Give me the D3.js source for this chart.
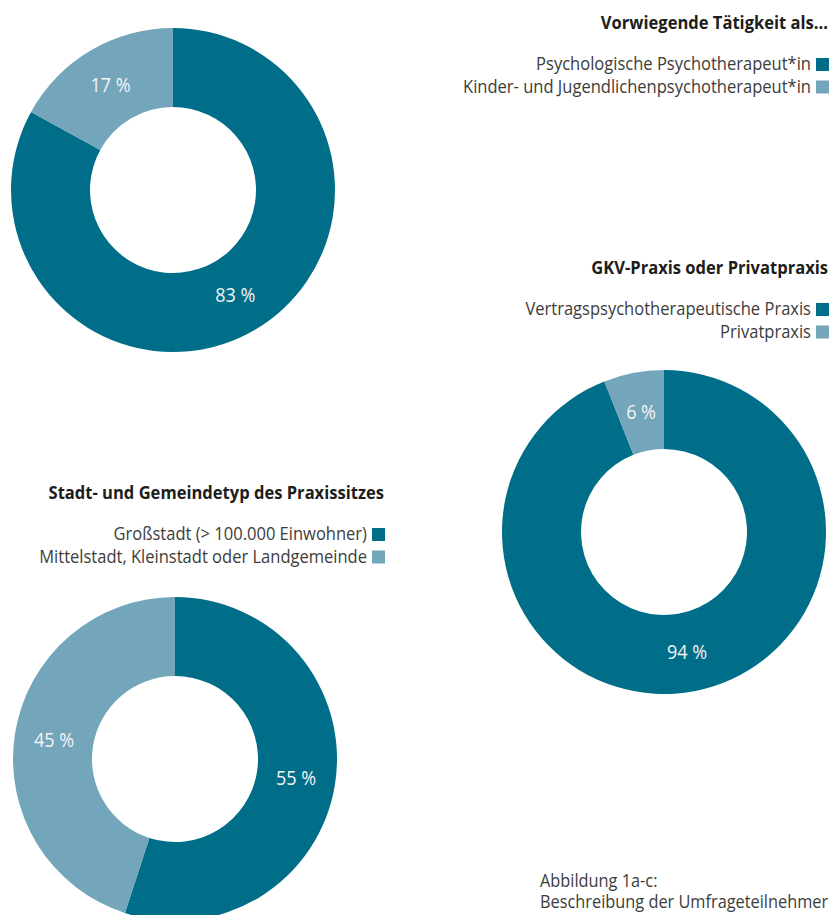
<!DOCTYPE html>
<html>
<head>
<meta charset="utf-8">
<script src="https://cdn.jsdelivr.net/npm/d3@7"></script>
<style>
  body { margin: 0; background: #fff; }
  svg { display: block; }
  .title { font-family: 'Open Sans', sans-serif; font-weight: 700; font-size: 18px; fill: #1d1d1b; }
  .legend-text, .caption { font-family: 'Open Sans', sans-serif; font-weight: 400; font-size: 19px; fill: #3c3c3b; }
  .slice-label { font-family: 'Open Sans', sans-serif; font-size: 20px; fill: #f4f4f4; }
</style>
</head>
<body>
<div id="chart"></div>
<script>
const colors = ['#006e89', '#74a6bb'];

const titles = [
  'Vorwiegende Tätigkeit als...',
  'GKV-Praxis oder Privatpraxis',
  'Stadt- und Gemeindetyp des Praxissitzes'
];

const taetigkeitLabels = ['Psychologische Psychotherapeut*in', 'Kinder- und Jugendlichenpsychotherapeut*in'];
const taetigkeitValues = [83, 17];

const praxisLabels = ['Vertragspsychotherapeutische Praxis', 'Privatpraxis'];
const praxisValues = [94, 6];

const ortLabels = ['Großstadt (> 100.000 Einwohner)', 'Mittelstadt, Kleinstadt oder Landgemeinde'];
const ortValues = [55, 45];

const captionLines = ['Abbildung 1a-c:', 'Beschreibung der Umfrageteilnehmer'];

const widthSvg = 840;
const heightSvg = 915;
const outerR = 162;
const innerR = 83;
// horizontal squeeze to mimic the condensed face of the original
const squeeze = { title: 0.92, legend: 0.87, label: 0.9, caption: 0.86 };

// layout for the three panels
const panels = [
  { title: titles[0], labels: taetigkeitLabels, values: taetigkeitValues,
    cx: 173, cy: 190, legendRight: 829, legendTop: 58 },
  { title: titles[1], labels: praxisLabels, values: praxisValues,
    cx: 664, cy: 532, legendRight: 829, legendTop: 303 },
  { title: titles[2], labels: ortLabels, values: ortValues,
    cx: 175, cy: 759, legendRight: 385, legendTop: 528 }
];

const svg = d3.select('#chart').append('svg')
  .attr('width', widthSvg)
  .attr('height', heightSvg);

const pie = d3.pie().sort(null).value(d => d);
const arc = d3.arc().innerRadius(innerR).outerRadius(outerR);
const color = d3.scaleOrdinal().domain([0, 1]).range(colors);

const squeezedText = (g, x, y, str, cls, anchor, sx) => {
  return g.append('text')
    .attr('class', cls)
    .attr('text-anchor', anchor)
    .attr('transform', `translate(${x},${y}) scale(${sx},1)`)
    .text(str);
};

panels.forEach(p => {
  const g = svg.append('g');

  // donut
  const donut = g.append('g').attr('transform', `translate(${p.cx},${p.cy})`);
  const arcs = pie(p.values);
  donut.selectAll('path')
    .data(arcs)
    .enter()
    .append('path')
    .attr('d', arc)
    .attr('fill', (d, i) => color(i));

  donut.selectAll('text')
    .data(arcs)
    .enter()
    .append('text')
    .attr('class', 'slice-label')
    .attr('text-anchor', 'middle')
    .attr('dy', '0.35em')
    .attr('transform', d => {
      const c = arc.centroid(d);
      return `translate(${c[0]},${c[1]}) scale(${squeeze.label},1)`;
    })
    .text(d => `${d.data} %`);

  // title + legend
  const sq = 13;
  const rowGap = 22.5;
  squeezedText(g, p.legendRight - 1, p.legendTop - 29, p.title, 'title', 'end', squeeze.title);

  p.labels.forEach((lab, i) => {
    const top = p.legendTop + i * rowGap;
    g.append('rect')
      .attr('x', p.legendRight - sq)
      .attr('y', top)
      .attr('width', sq)
      .attr('height', sq)
      .attr('fill', color(i));
    squeezedText(g, p.legendRight - sq - 5, top + 12, lab, 'legend-text', 'end', squeeze.legend);
  });
});

// caption, two lines in one text block
const caption = svg.append('text')
  .attr('class', 'caption')
  .attr('transform', `translate(540,887) scale(${squeeze.caption},1)`);
caption.selectAll('tspan')
  .data(captionLines)
  .enter()
  .append('tspan')
  .attr('x', 0)
  .attr('y', (d, i) => i * 21)
  .text(d => d);
</script>
</body>
</html>
